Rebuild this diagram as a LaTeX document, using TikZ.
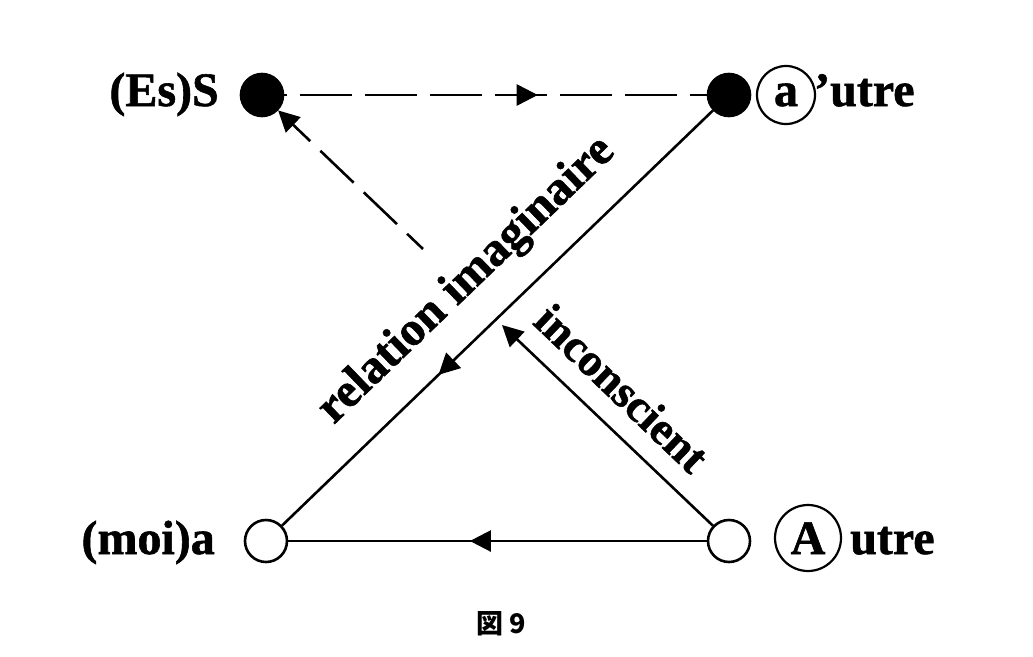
\documentclass[tikz,border=0pt]{standalone}
\usepackage{fontspec}
\newfontfamily\cjk{Noto Sans CJK JP}
\newfontfamily\lser{Liberation Serif}[BoldFeatures={FakeBold=1.2}]
\usetikzlibrary{arrows.meta,decorations.markings}
\tikzset{
  >={Triangle[length=21pt,width=21pt]},
  lbl/.style={font=\lser\fontsize{48}{56}\selectfont\bfseries, inner sep=0pt},
  dotnode/.style={circle, minimum size=42pt, inner sep=0pt, draw, line width=2.6pt},
  ring/.style={circle, draw, line width=2.2pt, inner sep=0pt},
  conn/.style={line width=2.6pt},
  dashconn/.style={line width=2.6pt, dash pattern=on 52pt off 13pt},
  midarrow/.style={postaction={decorate}, decoration={markings, mark=at position #1 with {\arrow{>}}}}
}
\begin{document}
\begin{tikzpicture}[x=1pt,y=-1pt]
\useasboundingbox (0,0) rectangle (1033,656);
% main nodes
\node[dotnode, fill=black] (S) at (262,95) {};
\node[dotnode, fill=black] (ap) at (729,95) {};
\node[dotnode, fill=white] (moi) at (266,541) {};
\node[dotnode, fill=white] (A) at (729,541) {};
% labels
\node[lbl, anchor=base east] (lS) at (219,106) {(Es)S};
\node[ring, minimum size=58pt] (ca) at (786,95) {};
\node[lbl, anchor=base] (la) at (786,106) {a};
\node[lbl, anchor=base west] (lap) at (814,106) {’utre};
\node[lbl, anchor=base east] (lmoi) at (215,554) {(moi)a};
\node[ring, minimum size=66pt] (cA) at (808,538) {};
\node[lbl, anchor=base] (lA) at (808,554) {A};
\node[lbl, anchor=base west] (lAu) at (850,554) {utre};
% connectors
\draw[dashconn, dash phase=49pt, midarrow=0.6] (S) -- (ap);
\draw[conn, midarrow=0.637] (ap) -- (moi);
\draw[conn, midarrow=0.566] (A) -- (moi);
\coordinate (tipA) at (502,325);
\coordinate (dst) at (423,249);
\draw[conn, ->] (A) -- (tipA);
\draw[conn, dash pattern=on 46pt off 14pt, dash phase=24pt, ->] (dst) -- (S);
% rotated labels
\node[lbl, rotate=43.9] (rel) at (467,281) {relation imaginaire};
\node[lbl, font=\lser\fontsize{46}{54}\selectfont\bfseries, rotate=-43.7] (inc) at (622,388) {inconscient};
% caption
\node[font=\cjk\fontsize{27}{30}\selectfont\bfseries, inner sep=0pt] (cap) at (501,624) {図 9};
\end{tikzpicture}
\end{document}
